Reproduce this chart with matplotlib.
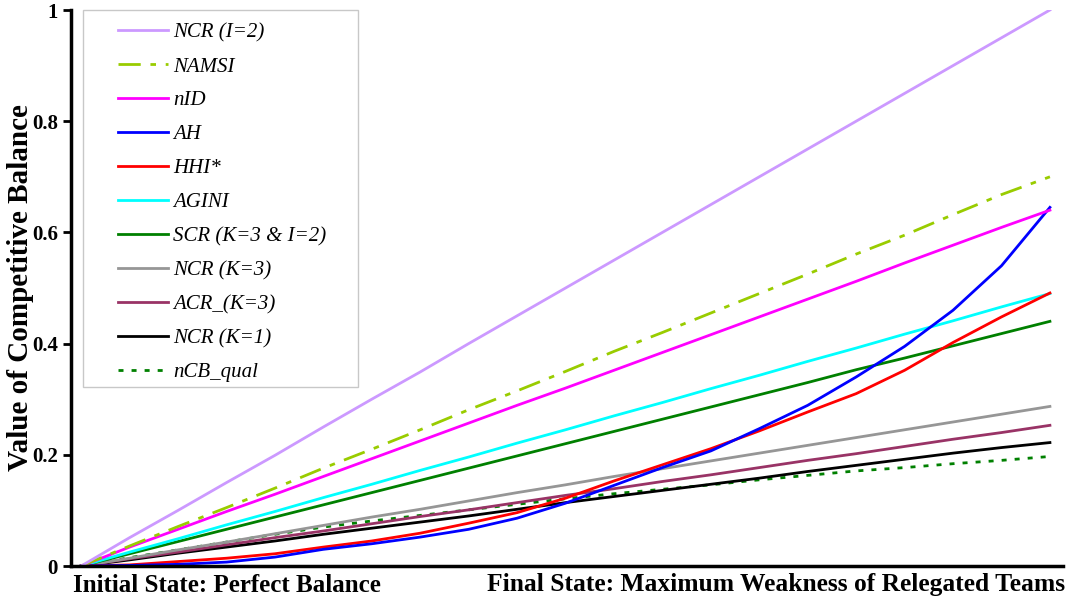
import numpy as np
import matplotlib
matplotlib.use('Agg')
import matplotlib.pyplot as plt
from matplotlib.ticker import FormatStrFormatter
from matplotlib.patches import Rectangle

# 21 steps between perfect balance and maximum weakness
steps = np.arange(21)

ncr_i2 = [0, 0.051, 0.100, 0.150, 0.199, 0.250, 0.300, 0.349, 0.400, 0.450, 0.500,
          0.550, 0.600, 0.650, 0.700, 0.750, 0.800, 0.850, 0.900, 0.950, 1.000]
namsi = [0, 0.036, 0.071, 0.105, 0.140, 0.176, 0.210, 0.245, 0.281, 0.315, 0.350,
         0.386, 0.420, 0.455, 0.490, 0.525, 0.561, 0.595, 0.632, 0.668, 0.700]
nid = [0, 0.034, 0.066, 0.098, 0.129, 0.161, 0.193, 0.225, 0.257, 0.289, 0.320,
       0.352, 0.384, 0.416, 0.448, 0.480, 0.512, 0.545, 0.577, 0.609, 0.640]
ah = [0, 0.001, 0.003, 0.007, 0.016, 0.030, 0.040, 0.052, 0.066, 0.086, 0.113,
      0.145, 0.177, 0.207, 0.247, 0.289, 0.340, 0.395, 0.460, 0.540, 0.645]
hhi = [0, 0.002, 0.008, 0.014, 0.022, 0.034, 0.045, 0.059, 0.077, 0.096, 0.122,
       0.153, 0.182, 0.211, 0.243, 0.277, 0.310, 0.352, 0.402, 0.448, 0.491]
agini = [0, 0.025, 0.049, 0.074, 0.098, 0.123, 0.147, 0.172, 0.196, 0.221, 0.245,
         0.270, 0.294, 0.319, 0.343, 0.368, 0.392, 0.417, 0.441, 0.466, 0.490]
scr = [0, 0.022, 0.044, 0.066, 0.088, 0.110, 0.132, 0.154, 0.176, 0.198, 0.220,
       0.242, 0.264, 0.286, 0.308, 0.330, 0.353, 0.374, 0.396, 0.418, 0.440]
ncr_k3 = [0, 0.014, 0.029, 0.043, 0.058, 0.073, 0.088, 0.102, 0.117, 0.132, 0.146,
          0.161, 0.175, 0.189, 0.203, 0.217, 0.231, 0.245, 0.259, 0.273, 0.287]
acr_k3 = [0, 0.013, 0.025, 0.038, 0.051, 0.063, 0.076, 0.089, 0.101, 0.114, 0.127,
          0.139, 0.152, 0.164, 0.177, 0.190, 0.202, 0.215, 0.228, 0.240, 0.253]
ncr_k1 = [0, 0.011, 0.023, 0.034, 0.045, 0.057, 0.068, 0.079, 0.090, 0.102, 0.114,
          0.125, 0.136, 0.147, 0.158, 0.170, 0.181, 0.192, 0.203, 0.213, 0.222]
ncb_qual = [0, 0.015, 0.029, 0.043, 0.057, 0.070, 0.081, 0.091, 0.101, 0.111, 0.121,
            0.130, 0.138, 0.146, 0.155, 0.163, 0.171, 0.177, 0.184, 0.190, 0.197]

labels = ['NCR (I=2)', 'NAMSI', 'nID', 'AH', 'HHI*', 'AGINI', 'SCR (K=3 & I=2)',
          'NCR (K=3)', 'ACR_(K=3)', 'NCR (K=1)', 'nCB_qual']
series = [ncr_i2, namsi, nid, ah, hhi, agini, scr, ncr_k3, acr_k3, ncr_k1, ncb_qual]
colors = ['#CC99FF', '#99CC00', '#FF00FF', '#0000FF', '#FF0000', '#00FFFF',
          '#008000', '#969696', '#993366', '#000000', '#008000']
styles = ['-', (0, (8, 3.5, 2, 3.5)), '-', '-', '-', '-', '-', '-', '-', '-',
          (0, (1.8, 2.9))]

plt.rcParams['font.family'] = ['Liberation Serif', 'DejaVu Serif']

W, H = 1071, 604
fig = plt.figure(figsize=(W/100, H/100), dpi=100)
ax = fig.add_axes([71/W, 1-566/H, (1063-71)/W, (566-10)/H])

# draw back to front so the first series sits on top
for y, lab, c, ls in list(zip(series, labels, colors, styles))[::-1]:
    ax.plot(steps, y, color=c, linestyle=ls, lw=2, label=lab)

ax.set_xlim(-0.21, 20.27)
ax.set_ylim(0, 1)
ax.set_yticks([0, 0.2, 0.4, 0.6, 0.8, 1])
ax.yaxis.set_major_formatter(FormatStrFormatter('%g'))
ax.set_xticks([])
for s in ['top', 'right']:
    ax.spines[s].set_visible(False)
for s in ['left', 'bottom']:
    ax.spines[s].set_linewidth(2.5)
ax.tick_params(axis='y', direction='out', length=6, width=2, labelsize=15)
for t in ax.get_yticklabels():
    t.set_fontweight('bold')

ax.set_ylabel('Value of Competitive Balance', fontsize=21, fontweight='bold')
ax.yaxis.set_label_coords((34-71)/992, 0.5)

fig.text(73/W, 1-585/H, 'Initial State: Perfect Balance', fontsize=18,
         fontweight='bold', ha='left', va='center')
fig.text(1065/W, 1-585/H, 'Final State: Maximum Weakness of Relegated Teams',
         fontsize=18.4, fontweight='bold', ha='right', va='center')

# legend box drawn separately for the wide side padding
ax.add_patch(Rectangle((83/W, 1-387/H), (358-83)/W, (387-10)/H,
                       transform=fig.transFigure, facecolor='white',
                       edgecolor='#C8C8C8', lw=1, zorder=4, clip_on=False))
handles, labs = ax.get_legend_handles_labels()
leg = ax.legend(handles[::-1], labs[::-1], loc='upper left',
                bbox_to_anchor=(118/W, 1-23/H), bbox_transform=fig.transFigure,
                borderaxespad=0, borderpad=0, frameon=False, handlelength=2.4,
                handletextpad=0.25, labelspacing=0.69,
                prop={'style': 'italic', 'size': 15})
leg.set_zorder(5)

fig.savefig('out.png', dpi=100)
